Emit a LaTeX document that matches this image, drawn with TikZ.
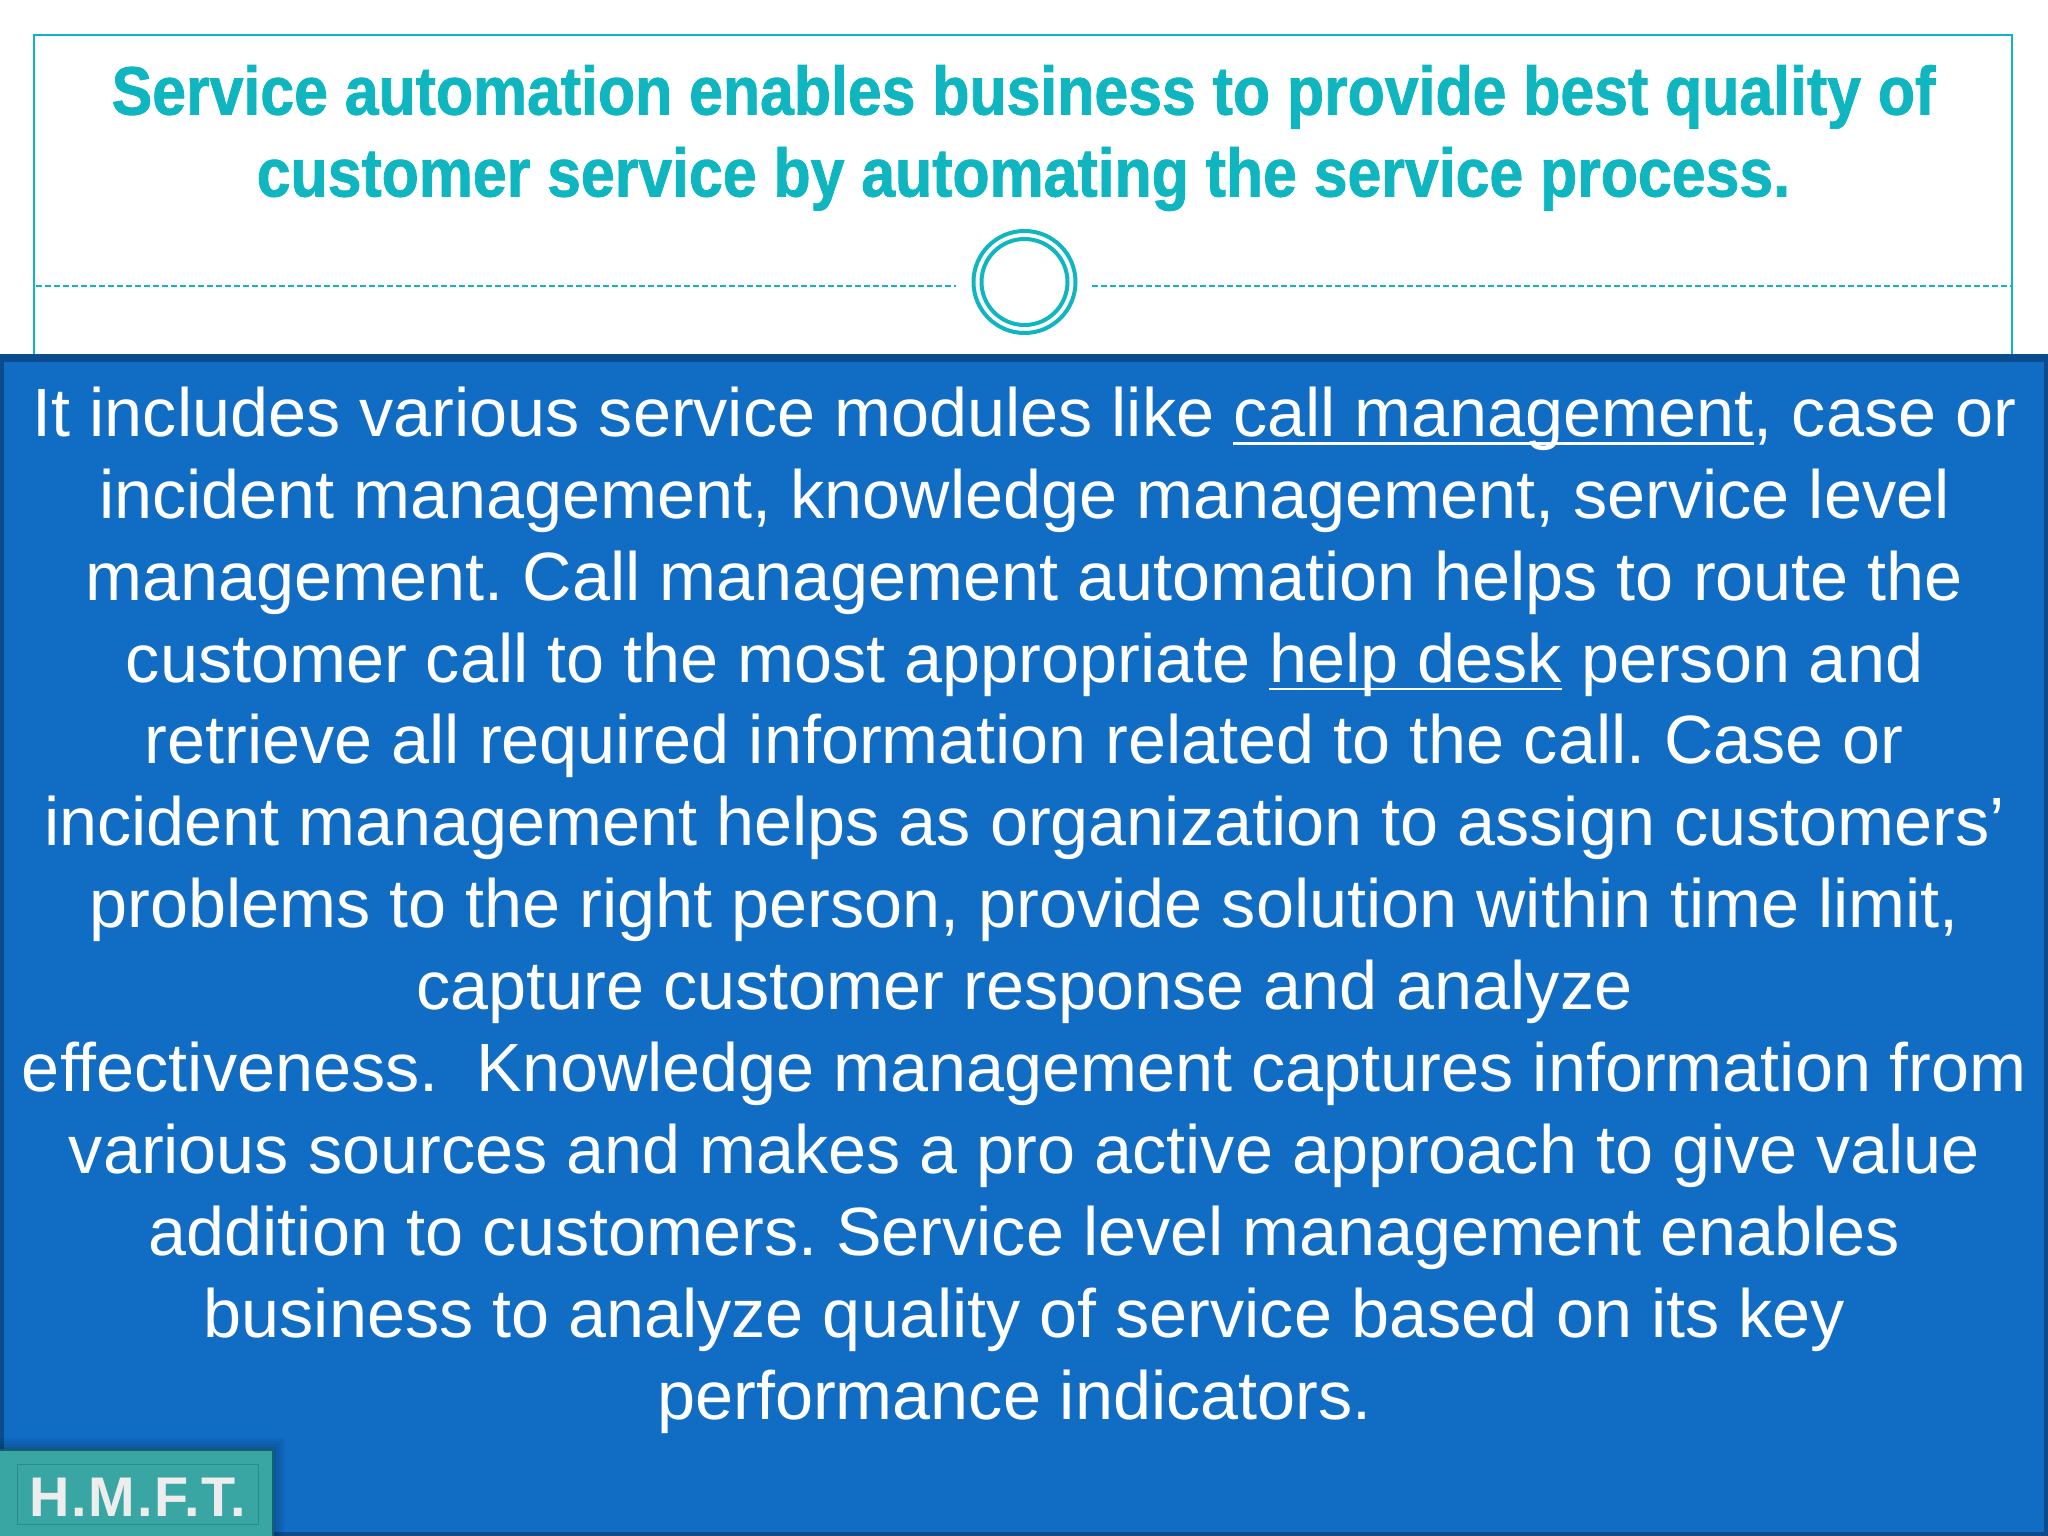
\documentclass[tikz,border=0pt]{standalone}
\usepackage{fontspec}
\usepackage{xcolor}
\setmainfont{Liberation Sans}
\newfontfamily\headfont[FakeStretch=0.889,BoldFeatures={FakeBold=1.2}]{Liberation Sans}
\definecolor{tealline}{HTML}{0FB5BF}
\definecolor{panelblue}{HTML}{116CC4}
\definecolor{paneledge}{HTML}{0B4C8F}
\definecolor{badgeteal}{HTML}{3AA6A3}
\definecolor{badgeedge}{HTML}{14606E}
\newsavebox{\lnkbox}
\newcommand{\lnk}[1]{\sbox{\lnkbox}{#1}\rlap{\rule[-2.4pt]{\wd\lnkbox}{.7pt}}\usebox{\lnkbox}}

\begin{document}
\begin{tikzpicture}
  [x=1cm,y=-1cm,
   title/.style={text=tealline,font=\headfont\fontsize{19.45}{23.3}\selectfont\bfseries,align=center,inner sep=0pt},
   body/.style={text=white,font=\fontsize{19.45}{23.3}\selectfont\frenchspacing,align=center,inner sep=0pt},
   ring/.style={circle,draw=tealline,line width=.04cm,fill=white,inner sep=0pt},
   rule/.style={tealline,line width=.02cm,dash pattern=on .06cm off .03cm}]
  \useasboundingbox (0,0) rectangle (20.48,15.36);

  % header
  \draw[tealline,line width=.02cm] (.34,3.6) -- (.34,.35) -- (20.12,.35) -- (20.12,3.6);
  \node[title] (head) at (10.235,1.38) {Service automation enables business to provide best quality of\\
    customer service by automating the service process.};

  \node[ring,minimum size=1.02cm] (outer) at (10.245,2.82) {};
  \node[ring,minimum size=.86cm] (inner) at (10.245,2.82) {};
  \coordinate (ruleA) at (.36,2.86);
  \coordinate (ruleB) at (9.56,2.86);
  \coordinate (ruleC) at (10.92,2.86);
  \coordinate (ruleD) at (20.11,2.86);
  \foreach \from/\to in {ruleA/ruleB, ruleC/ruleD}
    \draw[rule] (\from) -- (\to);

  % panel
  \draw[paneledge,fill=panelblue,line width=.08cm] (0,3.58) rectangle (20.48,15.36);
  \node[body] (text) at (10.245,9.10) {It includes various service modules like \lnk{call management}, case or\\
    incident management, knowledge management, service level\\
    management. Call management automation helps to route the\\
    customer call to the most appropriate \lnk{help desk} person and\\
    retrieve all required information related to the call. Case or\\
    incident management helps as organization to assign customers’\\
    problems to the right person, provide solution within time limit,\\
    capture customer response and analyze\\
    effectiveness.\ \ Knowledge management captures information from\\
    various sources and makes a pro active approach to give value\\
    addition to customers. Service level management enables\\
    business to analyze quality of service based on its key\\
    performance indicators.\hspace*{.2cm}};

  % badge
  \foreach \w in {.03,.06,.09,.12}
    \fill[black,opacity=.05] (0,14.5-\w) rectangle (2.73+\w,15.36);
  \draw[badgeedge,fill=badgeteal,line width=.02cm] (-.05,14.5) rectangle (2.73,15.41);
  \draw[badgeedge!40!badgeteal,line width=.01cm] (.18,14.64) rectangle (2.58,15.24);
  \node[text=white!93!black,font=\fontsize{15.9}{18}\selectfont\bfseries\addfontfeature{LetterSpace=3},inner sep=0pt,anchor=base west] (badge) at (.29,15.16) {H.M.F.T.};
\end{tikzpicture}
\end{document}
